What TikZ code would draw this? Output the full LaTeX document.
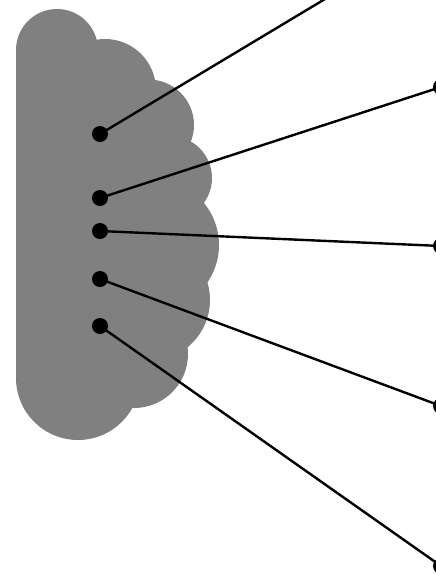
\documentclass[tikz,border=0pt]{standalone}
\begin{document}
\begin{tikzpicture}[x=1pt,y=-1pt,
  dot/.style={circle,fill=black,inner sep=0pt,minimum size=16pt},
  wire/.style={line width=2.4pt,black},
  cloudfill/.style={fill=gray}]
\useasboundingbox (0,0) rectangle (436,574);
% cloud
\fill[cloudfill] (57,50) circle (41);
\fill[cloudfill] (105,90) circle (51);
\fill[cloudfill] (148.5,125) circle (45.5);
\fill[cloudfill] (170,178) circle (42);
\fill[cloudfill] (153,245) circle (66);
\fill[cloudfill] (149,300) circle (61);
\fill[cloudfill] (134,354) circle (54);
\fill[cloudfill] (78,378) circle (62);
\fill[cloudfill] (16,50) rectangle (100,378);
\fill[cloudfill] (100,90) rectangle (150,380);
% dots
\node[dot] (a1) at (100,134) {};
\node[dot] (a2) at (100,198) {};
\node[dot] (a3) at (100,231) {};
\node[dot] (a4) at (100,279) {};
\node[dot] (a5) at (100,326) {};
\coordinate (b1) at (440,-70);
\node[dot] (b2) at (441,87) {};
\node[dot] (b3) at (441,246) {};
\node[dot] (b4) at (441,406) {};
\node[dot] (b5) at (441,566) {};
\draw[wire] (a1.center) -- (b1);
\draw[wire] (a2.center) -- (b2.center);
\draw[wire] (a3.center) -- (b3.center);
\draw[wire] (a4.center) -- (b4.center);
\draw[wire] (a5.center) -- (b5.center);
\end{tikzpicture}
\end{document}
